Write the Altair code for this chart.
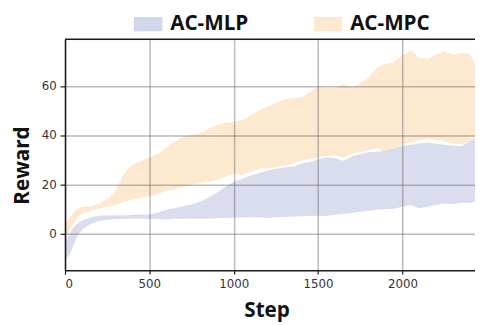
import altair as alt
import pandas as pd

steps = [0, 25, 50, 75, 100, 150, 200, 250, 300, 350, 400, 450, 500, 550, 600, 650, 700, 750, 800, 850,
         900, 950, 1000, 1050, 1100, 1150, 1200, 1250, 1300, 1350, 1400, 1450, 1500, 1550, 1600, 1650,
         1700, 1750, 1800, 1850, 1900, 1950, 2000, 2050, 2100, 2150, 2200, 2250, 2300, 2350, 2400, 2430]

mlp_lo = [-11, -9, -5, -1, 1.5, 3.8, 5, 5.5, 5.8, 5.8, 6, 6, 5.8, 5.8, 5.6, 6, 5.8, 6, 5.8, 6,
          6.2, 6.2, 6.3, 6.3, 6.5, 6.4, 6.2, 6.5, 6.6, 6.8, 6.9, 7, 7.2, 7, 7.6, 8,
          8.3, 8.8, 9.2, 9.6, 9.8, 10, 10.8, 11.5, 10.2, 10.8, 11.6, 12.1, 11.8, 12.4, 12.3, 12.8]
mlp_hi = [-3.5, -0.5, 2.5, 4, 5.2, 6.4, 7.2, 7.3, 7.4, 7.3, 7.6, 7.8, 7.6, 8.5, 9.6, 10.3, 11, 11.8, 12.8, 14.5,
          16.5, 19, 21, 22.2, 23.5, 24.5, 25.6, 26.3, 26.8, 27.2, 28.3, 29, 30, 31, 30.5, 29.5,
          31.3, 32.3, 33, 33.2, 33.6, 34.5, 35.6, 36, 36.5, 37, 36.4, 36, 35.6, 35.4, 37.5, 39]
mpc_lo = [-3, 1, 4, 6.5, 8, 9, 10, 10.8, 11.5, 12.8, 13.8, 14.5, 15.2, 16, 17.2, 18, 19, 19.8, 20.5, 21,
          21.8, 23, 24.3, 23.8, 25, 26.3, 26.5, 27, 27.6, 28.2, 29.6, 30.3, 30.8, 31.6, 32, 30.5,
          32.5, 33, 33.8, 34.8, 32.8, 33.8, 36.3, 37, 37.8, 38.5, 38, 37.5, 36.5, 36.2, 37.5, 39.5]
mpc_hi = [4, 6, 8.5, 10, 10.7, 11, 12, 14, 17.5, 24.5, 28, 29.5, 31, 32.3, 35, 37.5, 39.3, 40, 40.6, 42.5,
          44, 45, 45.3, 46, 48, 50, 51.5, 53, 54.5, 55, 55.4, 57.5, 59.6, 59, 59, 60.7,
          59.3, 61, 63.5, 67.5, 69, 69.5, 72.5, 74.5, 71.5, 71, 72.8, 74, 72.8, 73.5, 73, 68.8]

series = ["AC-MLP", "AC-MPC"]
colors = ["#d3d7ea", "#fde9cf"]
x_ticks = [0, 500, 1000, 1500, 2000]
y_ticks = [0, 20, 40, 60]

df_mlp = pd.DataFrame({"step": steps, "lo": mlp_lo, "hi": mlp_hi, "series": series[0]})
df_mpc = pd.DataFrame({"step": steps, "lo": mpc_lo, "hi": mpc_hi, "series": series[1]})

W, H = 417, 235

xscale = alt.Scale(domain=[0, 2430], nice=False, zero=False)
yscale = alt.Scale(domain=[-15, 79], nice=False, zero=False)
cscale = alt.Scale(domain=series, range=colors)

common = dict(grid=True, gridColor="#666", gridOpacity=0.45, gridWidth=1.5,
              domain=True, domainColor="#1a1a1a", domainWidth=1.5, tickColor="#1a1a1a",
              tickWidth=1.2, labelFont="DejaVu Sans", labelFontSize=12, labelColor="#333",
              titleFont="Open Sans", titleFontSize=21, titleFontWeight="bold", titleColor="#111",
              titleBaseline="alphabetic", titleAlign="center", format="d", zindex=1)

x_axis = alt.Axis(values=x_ticks, title="Step", tickSize=4, labelPadding=5, titleX=205, titleY=47, **common)
y_axis = alt.Axis(values=y_ticks, title="Reward", tickSize=5, labelPadding=4, titleAngle=270,
                  titleX=-37, titleY=128, **common)

legend = alt.Legend(title=None, orient="none", direction="horizontal", legendX=70, legendY=-30,
                    symbolType="M-1,-0.5L1,-0.5L1,0.5L-1,0.5Z", symbolSize=841, symbolStrokeWidth=0,
                    symbolOpacity=1, labelFont="Open Sans", labelFontSize=21, labelFontWeight="bold",
                    labelColor="#111", labelOffset=8, columnPadding=66, padding=0)

mpc_area = alt.Chart(df_mpc).mark_area(opacity=1).encode(
    x=alt.X("step:Q", scale=xscale, axis=x_axis),
    y=alt.Y("lo:Q", scale=yscale, axis=y_axis),
    y2="hi:Q",
    color=alt.Color("series:N", scale=cscale, legend=legend),
)
mlp_area = alt.Chart(df_mlp).mark_area(opacity=0.85).encode(
    x=alt.X("step:Q", scale=xscale),
    y=alt.Y("lo:Q", scale=yscale),
    y2="hi:Q",
    color=alt.Color("series:N", scale=cscale, legend=legend),
)
top_rule = alt.Chart(df_mlp.head(1)).mark_rule(color="#1a1a1a", strokeWidth=1.5).encode(
    y=alt.value(0), x=alt.value(0), x2=alt.value(W)
)

chart = alt.layer(mpc_area, mlp_area, top_rule).properties(
    width=W, height=H,
    autosize=alt.AutoSizeParams(type="none"),
    padding={"left": 58, "top": 29, "right": 0, "bottom": 50},
).configure_view(strokeWidth=0).configure(background="white")

chart.save("out.html", embed_options={"renderer": "svg", "actions": False})
